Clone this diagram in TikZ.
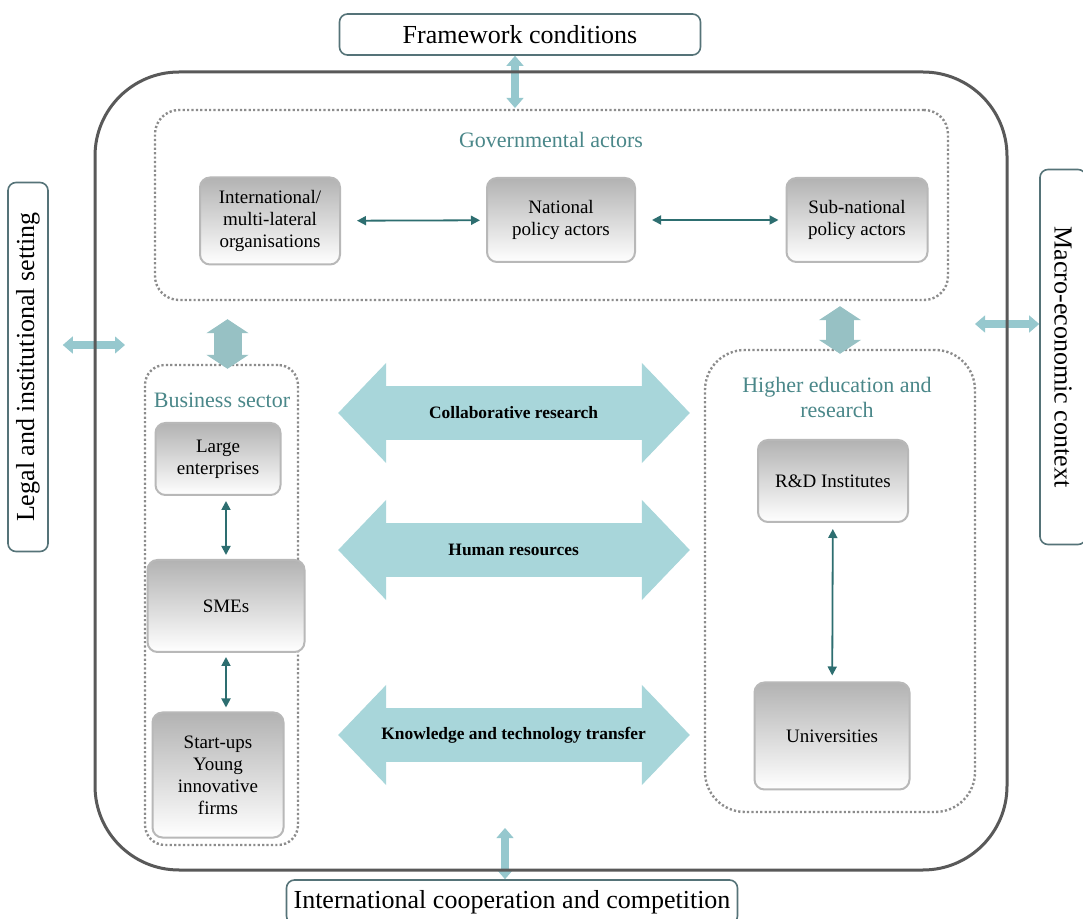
\documentclass[tikz,border=0pt]{standalone}
\usepackage{fontspec}
\setmainfont{Liberation Serif}
\usetikzlibrary{arrows.meta,positioning}
\definecolor{tealtext}{RGB}{74,135,137}
\definecolor{tealline}{RGB}{45,110,112}
\definecolor{fatblue}{RGB}{168,214,218}
\definecolor{thinblue}{RGB}{150,200,206}
\definecolor{framec}{RGB}{85,115,120}
\tikzset{
	actor/.style={draw=black!28, line width=1pt, rounded corners=5pt, top color=black!30, bottom color=white,
		align=center, inner sep=2pt, font=\fontsize{9.5}{11}\selectfont},
	group/.style={draw=black!45, line width=1.2pt, dash pattern=on 1.1pt off 1.1pt, rounded corners=#1},
	group/.default=10pt,
	grouplabel/.style={text=tealtext, align=center, font=\fontsize{11}{12.5}\selectfont},
	framebox/.style={draw=framec, line width=0.8pt, rounded corners=4pt, fill=white, inner sep=2pt,
		font=\fontsize{13}{15}\selectfont},
	sysbox/.style={draw=black!65, line width=1.5pt, rounded corners=42pt},
	conn/.style={draw=tealline, line width=0.9pt, >={Triangle[length=4.5pt,width=4.5pt]}, <->},
	fatarrow/.style={draw=fatblue, line width=27pt, >={Triangle[length=24pt,width=50pt,line width=0.5pt]}, <->},
	midarrow/.style={draw=fatblue!90!black, line width=14pt, >={Triangle[length=7pt,width=21pt,line width=0.5pt]}, <->},
	thinarrow/.style={draw=thinblue, line width=4pt, >={Triangle[length=5pt,width=8.5pt,line width=0.5pt]}, <->},
	arrowlabel/.style={font=\fontsize{8.7}{10}\selectfont\bfseries}
}
\begin{document}
\begin{tikzpicture}[x=0.5pt,y=-0.5pt]
	\path[use as bounding box, fill=white] (0,0) rectangle (1083,919);

	\node[framebox, minimum width=180.5pt, minimum height=20.5pt] (frame) at (520,34.5) {Framework conditions};
	\node[framebox, minimum width=225.5pt, minimum height=22pt] (intl) at (512,902) {International cooperation and competition};
	\node[framebox, minimum width=20pt, minimum height=184.5pt] (legal) at (28,367) {\rotatebox{90}{Legal and institutional setting}};
	\node[framebox, minimum width=23pt, minimum height=187.5pt] (macro) at (1063,357) {\rotatebox{-90}{Macro-economic context}};

	\coordinate (frameout) at (515,108);
	\coordinate (legalin) at (125,345);
	\coordinate (macroin) at (975,324);
	\coordinate (intlin) at (505,828);
	\draw[thinarrow] (frameout |- frame.south) -- (frameout);
	\draw[thinarrow, shorten <=7pt] (legal.east |- legalin) -- (legalin);
	\draw[thinarrow] (macroin) -- (macroin -| macro.west);
	\draw[thinarrow] (intlin) -- (intlin |- intl.north);

	\node[sysbox, minimum width=456pt, minimum height=399pt] (sys) at (551,471) {};

	\node[group=12pt, minimum width=396.5pt, minimum height=95pt] (gov) at (551.5,205) {};
	\node[group=10pt, minimum width=76.5pt, minimum height=240pt] (bus) at (221.5,605) {};
	\node[group=20pt, minimum width=135pt, minimum height=231pt] (hed) at (840,581) {};
	\node[grouplabel] (govlab) at (551,140) {Governmental actors};
	\node[grouplabel] (buslab) at (222,400) {Business sector};
	\node[grouplabel] (hedlab) at (837,397) {Higher education and\\research};

	\node[actor, minimum width=70pt, minimum height=43.5pt] (int) at (270,221) {International/\\multi-lateral\\organisations};
	\node[actor, minimum width=74pt, minimum height=42pt] (nat) at (561,220) {National\\policy actors};
	\node[actor, minimum width=70.5pt, minimum height=42pt] (sub) at (857,220) {Sub-national\\policy actors};
	\node[actor, minimum width=62.5pt, minimum height=36pt] (large) at (218,459) {Large\\enterprises};
	\node[actor, minimum width=78.5pt, minimum height=46pt] (smes) at (226,606) {SMEs};
	\node[actor, minimum width=65.5pt, minimum height=62.5pt] (start) at (218,775) {Start-ups\\Young\\innovative\\firms};
	\node[actor, minimum width=75pt, minimum height=41pt] (rd) at (833,481) {R\&D Institutes};
	\node[actor, minimum width=77.5pt, minimum height=53.5pt] (uni) at (832,736) {Universities};

	\draw[conn, shorten <=8pt, shorten >=3pt] (int) -- (nat);
	\draw[conn, shorten <=8pt, shorten >=3.5pt] (nat) -- (sub);
	\draw[conn, shorten <=2.5pt, shorten >=2pt] (large.south -| smes) -- (smes.north);
	\draw[conn, shorten <=2pt, shorten >=2pt] (smes.south) -- (start.north -| smes);
	\draw[conn, shorten <=3pt, shorten >=3pt] (rd) -- (uni);

	\draw[midarrow, shorten <=9pt, shorten >=-2.5pt] ([xshift=3pt]gov.south -| bus.north) -- ([xshift=3pt]bus.north);
	\draw[midarrow, shorten <=2.5pt, shorten >=-2.5pt] (gov.south -| hed.north) -- (hed.north);

	\coordinate (collaby) at (0,413);
	\coordinate (humany) at (0,550);
	\coordinate (knowy) at (0,735);
	\draw[fatarrow, shorten <=19.5pt, shorten >=7pt] (bus.east |- collaby) -- (hed.west |- collaby)
		node[pos=.53, arrowlabel] (collab) {Collaborative research};
	\draw[fatarrow, shorten <=19.5pt, shorten >=7pt] (bus.east |- humany) -- (hed.west |- humany)
		node[pos=.53, arrowlabel] (human) {Human resources};
	\draw[fatarrow, shorten <=19.5pt, shorten >=7pt] (bus.east |- knowy) -- (hed.west |- knowy)
		node[pos=.53, arrowlabel] (know) {Knowledge and technology transfer};
\end{tikzpicture}
\end{document}
